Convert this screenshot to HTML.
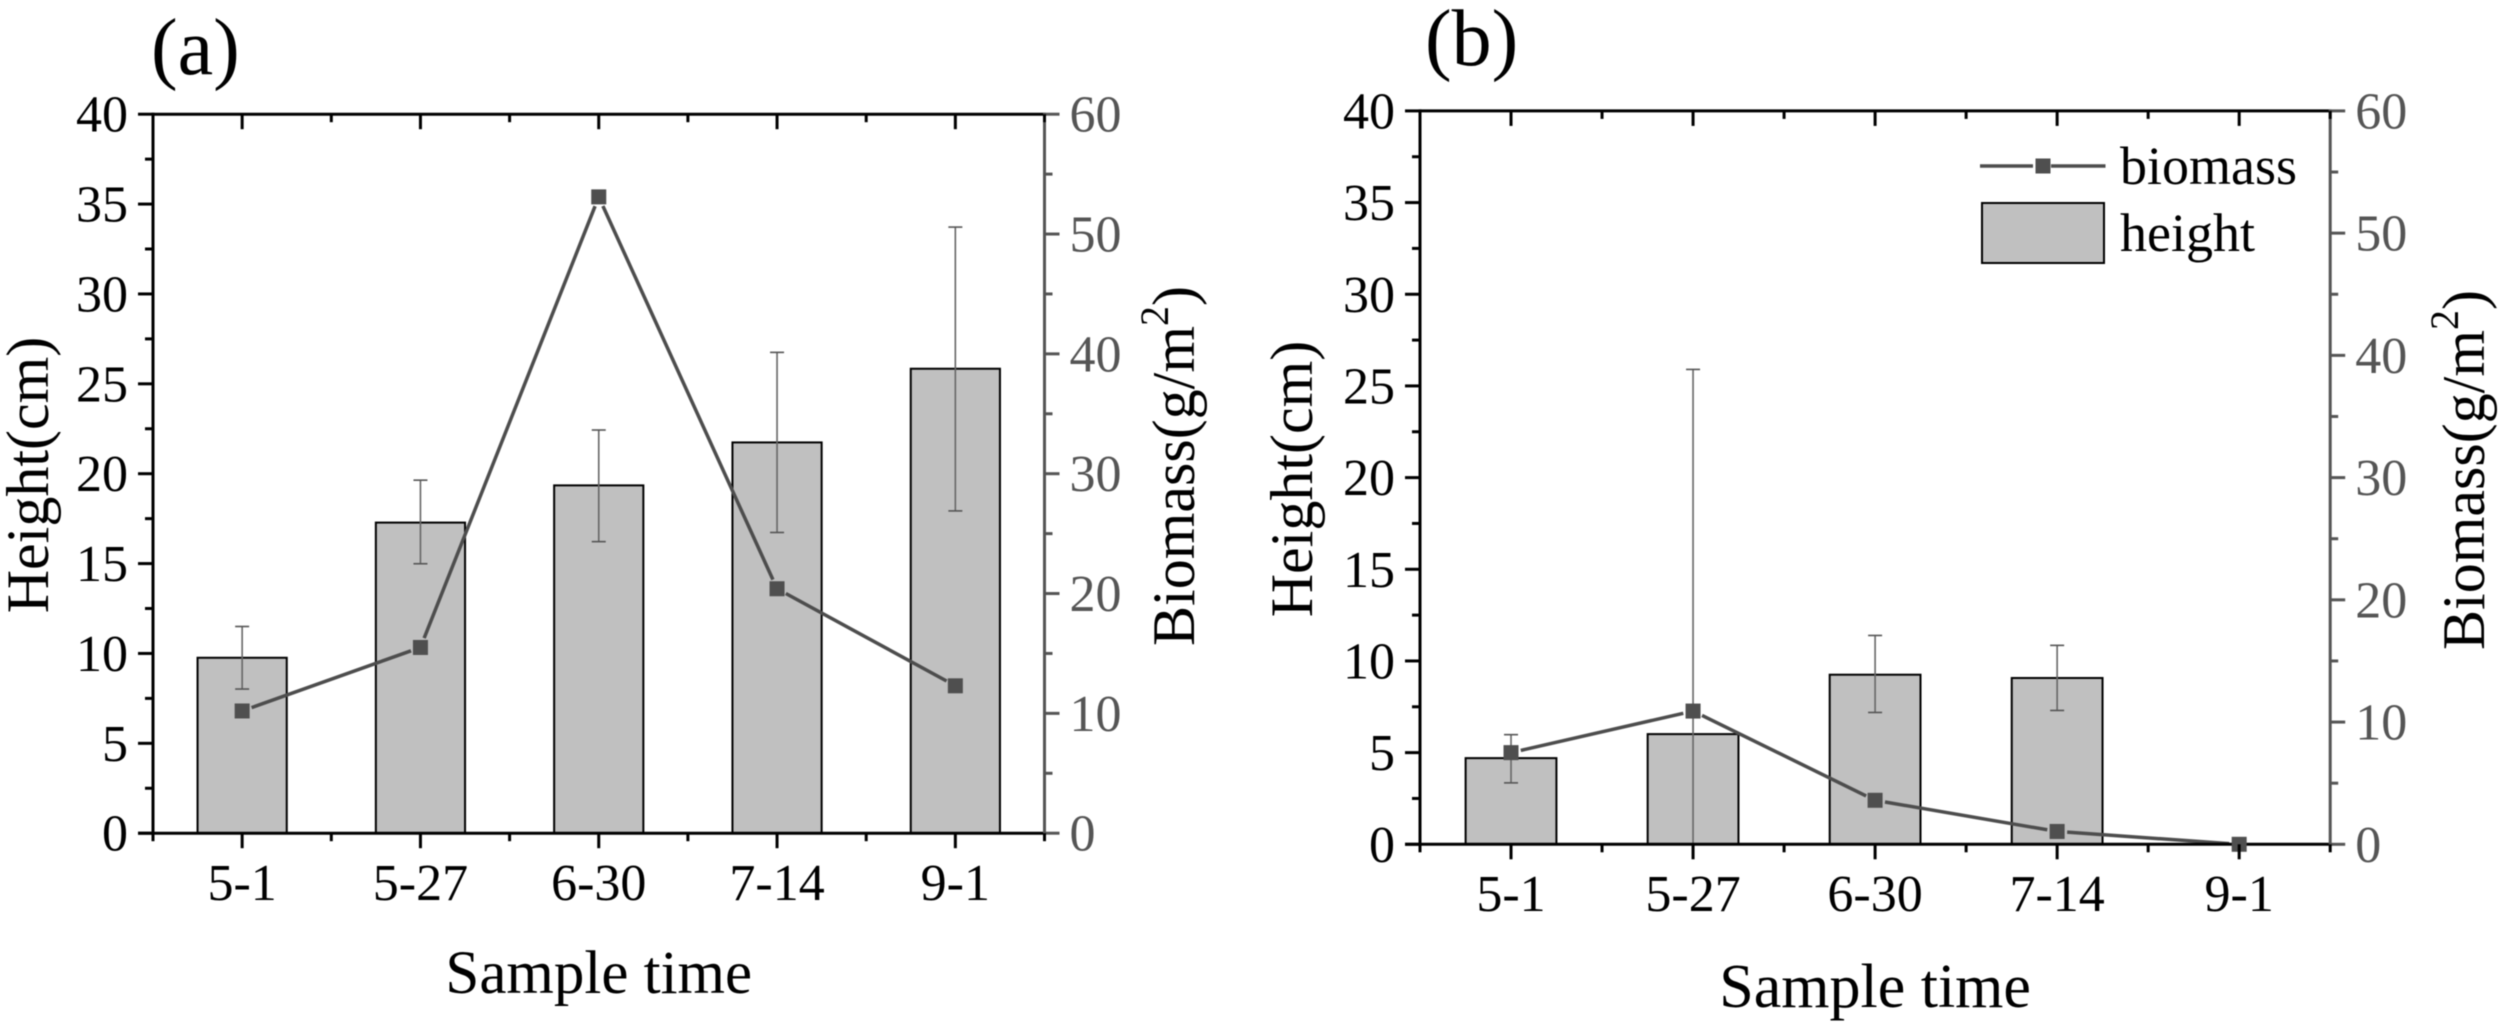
<!DOCTYPE html>
<html lang="en">
<head>
<meta charset="utf-8">
<title>Height and biomass by sample time</title>
<style>
html,body{margin:0;padding:0;background:#fff;}
#figure{display:block;width:2500px;height:1023px;font-family:"Liberation Serif",serif;filter:blur(0.5px);}
</style>
</head>
<body>
<svg id="figure" xmlns="http://www.w3.org/2000/svg" width="2500" height="1023" viewBox="0 0 2500 1023"></svg>
<script>
const categories = ['5-1', '5-27', '6-30', '7-14', '9-1'];
const heightTicks = [0, 5, 10, 15, 20, 25, 30, 35, 40];
const biomassTicks = [0, 10, 20, 30, 40, 50, 60];

const heightA = [9.76, 17.28, 19.35, 21.74, 25.84];
const heightErrTopA = [11.5, 19.64, 22.43, 26.75, 33.72];
const heightErrBottomA = [8.02, 14.99, 16.22, 16.73, 17.93];
const biomassA = [10.2, 15.5, 53.1, 20.4, 12.3];

const heightB = [4.7, 6.01, 9.25, 9.07, 0];
const heightErrTopB = [5.98, 25.9, 11.39, 10.85, 0];
const heightErrBottomB = [3.35, 0, 7.19, 7.3, 0];
const biomassB = [7.5, 10.9, 3.6, 1.05, 0];

const svg = document.getElementById('figure');
const NS = 'http://www.w3.org/2000/svg';

function make(tag, attrs, parent) {
  const el = document.createElementNS(NS, tag);
  for (const k in attrs) el.setAttribute(k, attrs[k]);
  parent.appendChild(el);
  return el;
}
function seg(parent, x1, y1, x2, y2, color, w) {
  return make('line', {x1: x1, y1: y1, x2: x2, y2: y2, stroke: color, 'stroke-width': w}, parent);
}
function label(parent, x, y, str, size, color, anchor, rot) {
  const a = {x: x, y: y, 'font-size': size, fill: color, 'text-anchor': anchor};
  if (rot) a.transform = 'rotate(-90 ' + x + ' ' + y + ')';
  const t = make('text', a, parent);
  t.textContent = str;
  return t;
}

function drawPanel(p) {
  const g = make('g', {}, svg);
  
  

  const xScale = i => p.left + (i + 0.5) / categories.length * (p.right - p.left);
  const yLeft = v => p.bottom - v / 40 * (p.bottom - p.top);
  const yRight = v => p.bottom - v / 60 * (p.bottom - p.top);
  const barHalf = p.barHalf;

  // Bars
  categories.forEach((c, i) => {
    if (p.height[i] <= 0) return;
    const r = make('rect', {x: xScale(i) - barHalf, y: yLeft(p.height[i]), width: barHalf * 2,
      height: p.bottom - yLeft(p.height[i]), fill: '#c0c0c0', stroke: '#000', 'stroke-width': 2}, g);
    
    
  });

  // Error bars
  categories.forEach((c, i) => {
    if (p.errTop[i] <= 0) return;
    const e = make('g', {}, g);
    
    
    const x = xScale(i);
    seg(e, x, yLeft(p.errTop[i]), x, yLeft(p.errBottom[i]), '#666', 1.6);
    seg(e, x - 7, yLeft(p.errTop[i]), x + 7, yLeft(p.errTop[i]), '#555', 1.6);
    if (p.errBottom[i] > 0) seg(e, x - 7, yLeft(p.errBottom[i]), x + 7, yLeft(p.errBottom[i]), '#555', 1.6);
  });

  // Biomass line with the small gaps around each marker
  const lineGroup = make('g', {}, g);
  
  
  const gap = 10;
  for (let i = 0; i < categories.length - 1; i++) {
    const x1 = xScale(i), y1 = yRight(p.biomass[i]);
    const x2 = xScale(i + 1), y2 = yRight(p.biomass[i + 1]);
    const len = Math.hypot(x2 - x1, y2 - y1);
    const ux = (x2 - x1) / len, uy = (y2 - y1) / len;
    seg(lineGroup, x1 + ux * gap, y1 + uy * gap, x2 - ux * gap, y2 - uy * gap, '#4d4d4d', 3.5);
  }

  // Axis frame
  seg(g, p.left, p.top, p.right, p.top, '#000', 3);
  const bottomAxis = seg(g, p.left - 15, p.bottom, p.right, p.bottom, '#000', 3);
  
  
  const leftAxis = seg(g, p.left, p.top - 1.5, p.left, p.bottom + 1.5, '#000', 3);
  
  
  const rightAxis = seg(g, p.right, p.top - 1.5, p.right, p.bottom + 1.5, '#555', 3);
  
  

  // Markers
  categories.forEach((c, i) => {
    const m = make('rect', {x: xScale(i) - 7.5, y: yRight(p.biomass[i]) - 7.5, width: 15, height: 15, fill: '#4f4f4f'}, g);
    
    
  });

  // Left axis ticks and labels
  heightTicks.forEach((v, i) => {
    seg(g, p.left - 15, yLeft(v), p.left, yLeft(v), '#000', 3);
    if (i < heightTicks.length - 1) {
      const mid = yLeft((v + heightTicks[i + 1]) / 2);
      seg(g, p.left - 8, mid, p.left, mid, '#000', 3);
    }
    const t = label(g, p.left - 25, yLeft(v) + 17.5, String(v), 52, '#000', 'end');
    
    
  });

  // Right axis ticks and labels
  biomassTicks.forEach((v, i) => {
    seg(g, p.right, yRight(v), p.right + 15, yRight(v), '#555', 3);
    if (i < biomassTicks.length - 1) {
      const mid = yRight((v + biomassTicks[i + 1]) / 2);
      seg(g, p.right, mid, p.right + 8, mid, '#555', 3);
    }
    const t = label(g, p.right + 25, yRight(v) + 17.5, String(v), 52, '#555', 'start');
    
    
  });

  // X ticks (bottom outward, top inward) and labels
  categories.forEach((c, i) => {
    const x = xScale(i);
    seg(g, x, p.bottom, x, p.bottom + 15, '#000', 3);
    seg(g, x, p.top, x, p.top + 15, '#000', 3);
    const t = label(g, x, p.tickBase, c, 52, '#000', 'middle');
    
    
  });
  for (let i = 0; i <= categories.length; i++) {
    const x = xScale(i - 0.5);
    seg(g, x, p.bottom, x, p.bottom + 8, '#000', 3);
    seg(g, x, p.top, x, p.top + 8, '#000', 3);
  }

  // Titles
  const xTitle = label(g, (p.left + p.right) / 2, p.xTitleBase, 'Sample time', p.xTitleSize, '#000', 'middle');
  
  

  const yTitle = label(g, p.yTitleX, p.yTitleY, 'Height(cm)', 60, '#000', 'middle', true);
  
  

  const rTitle = label(g, p.rTitleX, p.rTitleY, 'Biomass(g/m', 60, '#000', 'middle', true);
  
  
  const sup = make('tspan', {'font-size': 40, dy: -26}, rTitle);
  sup.textContent = '2';
  const close = make('tspan', {dy: 26}, rTitle);
  close.textContent = ')';

  const letter = label(g, p.letterX, p.letterY, '(' + p.id + ')', 80, '#000', 'start');
  
  
}

drawPanel({
  id: 'a', left: 153, right: 1044.5, top: 114.2, bottom: 833.2, barHalf: 44.6,
  height: heightA, errTop: heightErrTopA, errBottom: heightErrBottomA, biomass: biomassA,
  tickBase: 900, xTitleBase: 993, xTitleSize: 61, yTitleX: 48, yTitleY: 475, rTitleX: 1194, rTitleY: 466,
  letterX: 151, letterY: 74
});
drawPanel({
  id: 'b', left: 1420, right: 2330.2, top: 110.9, bottom: 844.3, barHalf: 45.4,
  height: heightB, errTop: heightErrTopB, errBottom: heightErrBottomB, biomass: biomassB,
  tickBase: 911, xTitleBase: 1007, xTitleSize: 62, yTitleX: 1312, yTitleY: 479, rTitleX: 2484, rTitleY: 470,
  letterX: 1425, letterY: 65
});

// Legend
const legend = make('g', {}, svg);



const legendLine = make('g', {}, legend);


seg(legendLine, 1980, 166, 2033, 166, '#4d4d4d', 3.5);
seg(legendLine, 2051, 166, 2105.5, 166, '#4d4d4d', 3.5);
make('rect', {x: 2035.5, y: 158.5, width: 15, height: 15, fill: '#4f4f4f'}, legendLine);
label(legendLine, 2120, 184, 'biomass', 54, '#000', 'start');

const legendBar = make('g', {}, legend);


make('rect', {x: 1982, y: 203, width: 122, height: 60, fill: '#c0c0c0', stroke: '#000', 'stroke-width': 2}, legendBar);
label(legendBar, 2120, 251, 'height', 54, '#000', 'start');
</script>
</body>
</html>
